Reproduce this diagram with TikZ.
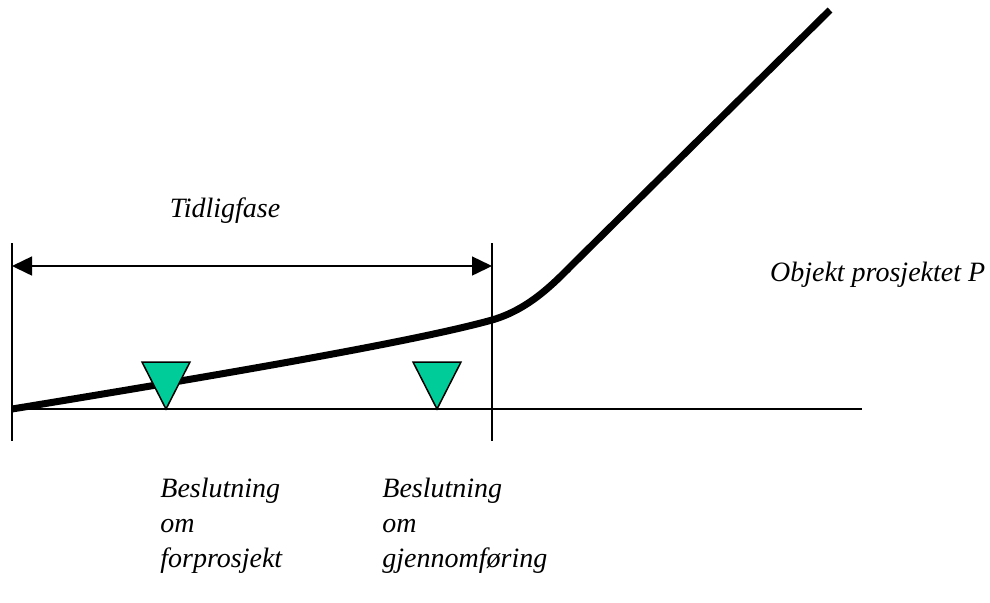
\documentclass[tikz,border=0pt]{standalone}
\usepackage{fontspec}
\setmainfont{Liberation Serif}
\usetikzlibrary{positioning,arrows.meta}
\definecolor{milegreen}{RGB}{0,204,153}

\begin{document}
\begin{tikzpicture}[x=0.5pt,y=-0.5pt,font=\fontsize{14}{17.5}\selectfont\itshape]
  \tikzset{
    axisline/.style={line width=0.75pt},
    growth/.style={line width=3.5pt},
    milestone/.style={draw,line width=0.75pt,fill=milegreen},
    caption/.style={inner sep=0pt,align=left},
    >={Triangle[length=10pt,width=9.5pt]}
  }
  \useasboundingbox (0,0) rectangle (990,602);
  \coordinate (origin)  at (12,409);
  \coordinate (axisend) at (862,409);
  \coordinate (startTop) at (12,243);
  \coordinate (startBot) at (12,441);
  \coordinate (gateTop) at (492,243);
  \coordinate (gateBot) at (492,441);
  \coordinate (spanL) at (12,266);
  \coordinate (spanR) at (492,266);
  \coordinate (knee) at (492,320);
  \coordinate (bend) at (575,262);
  \coordinate (peak) at (830,10);
  \coordinate (m1) at (166,409);
  \coordinate (m2) at (437,409);
  % axis and phase limits
  \draw[axisline] (origin) -- (axisend);
  \draw[axisline] (startTop) -- (startBot);
  \draw[axisline] (gateTop) -- (gateBot);
  \draw[axisline,<->] (spanL) -- (spanR);
  \node[anchor=base] (phase) at (225,217) {Tidligfase};
  % cost curve
  \draw[growth] (origin) .. controls (250,370) and (420,340) .. (knee)
     .. controls (530,309) and (555,282) .. (bend) -- (peak);
  \node[anchor=base west] (object) at (763,281) {Objekt prosjektet P};
  % decision points
  \draw[milestone] (m1) -- ++(-24,-47) -- ++(48,0) -- cycle;
  \draw[milestone] (m2) -- ++(-24,-47) -- ++(48,0) -- cycle;
  \node[caption,anchor=north west] (dec1) at (160,478) {Beslutning\\om\\forprosjekt};
  \node[caption,anchor=north west] (dec2) at (382,478) {Beslutning\\om\\gjennomføring};
\end{tikzpicture}
\end{document}
